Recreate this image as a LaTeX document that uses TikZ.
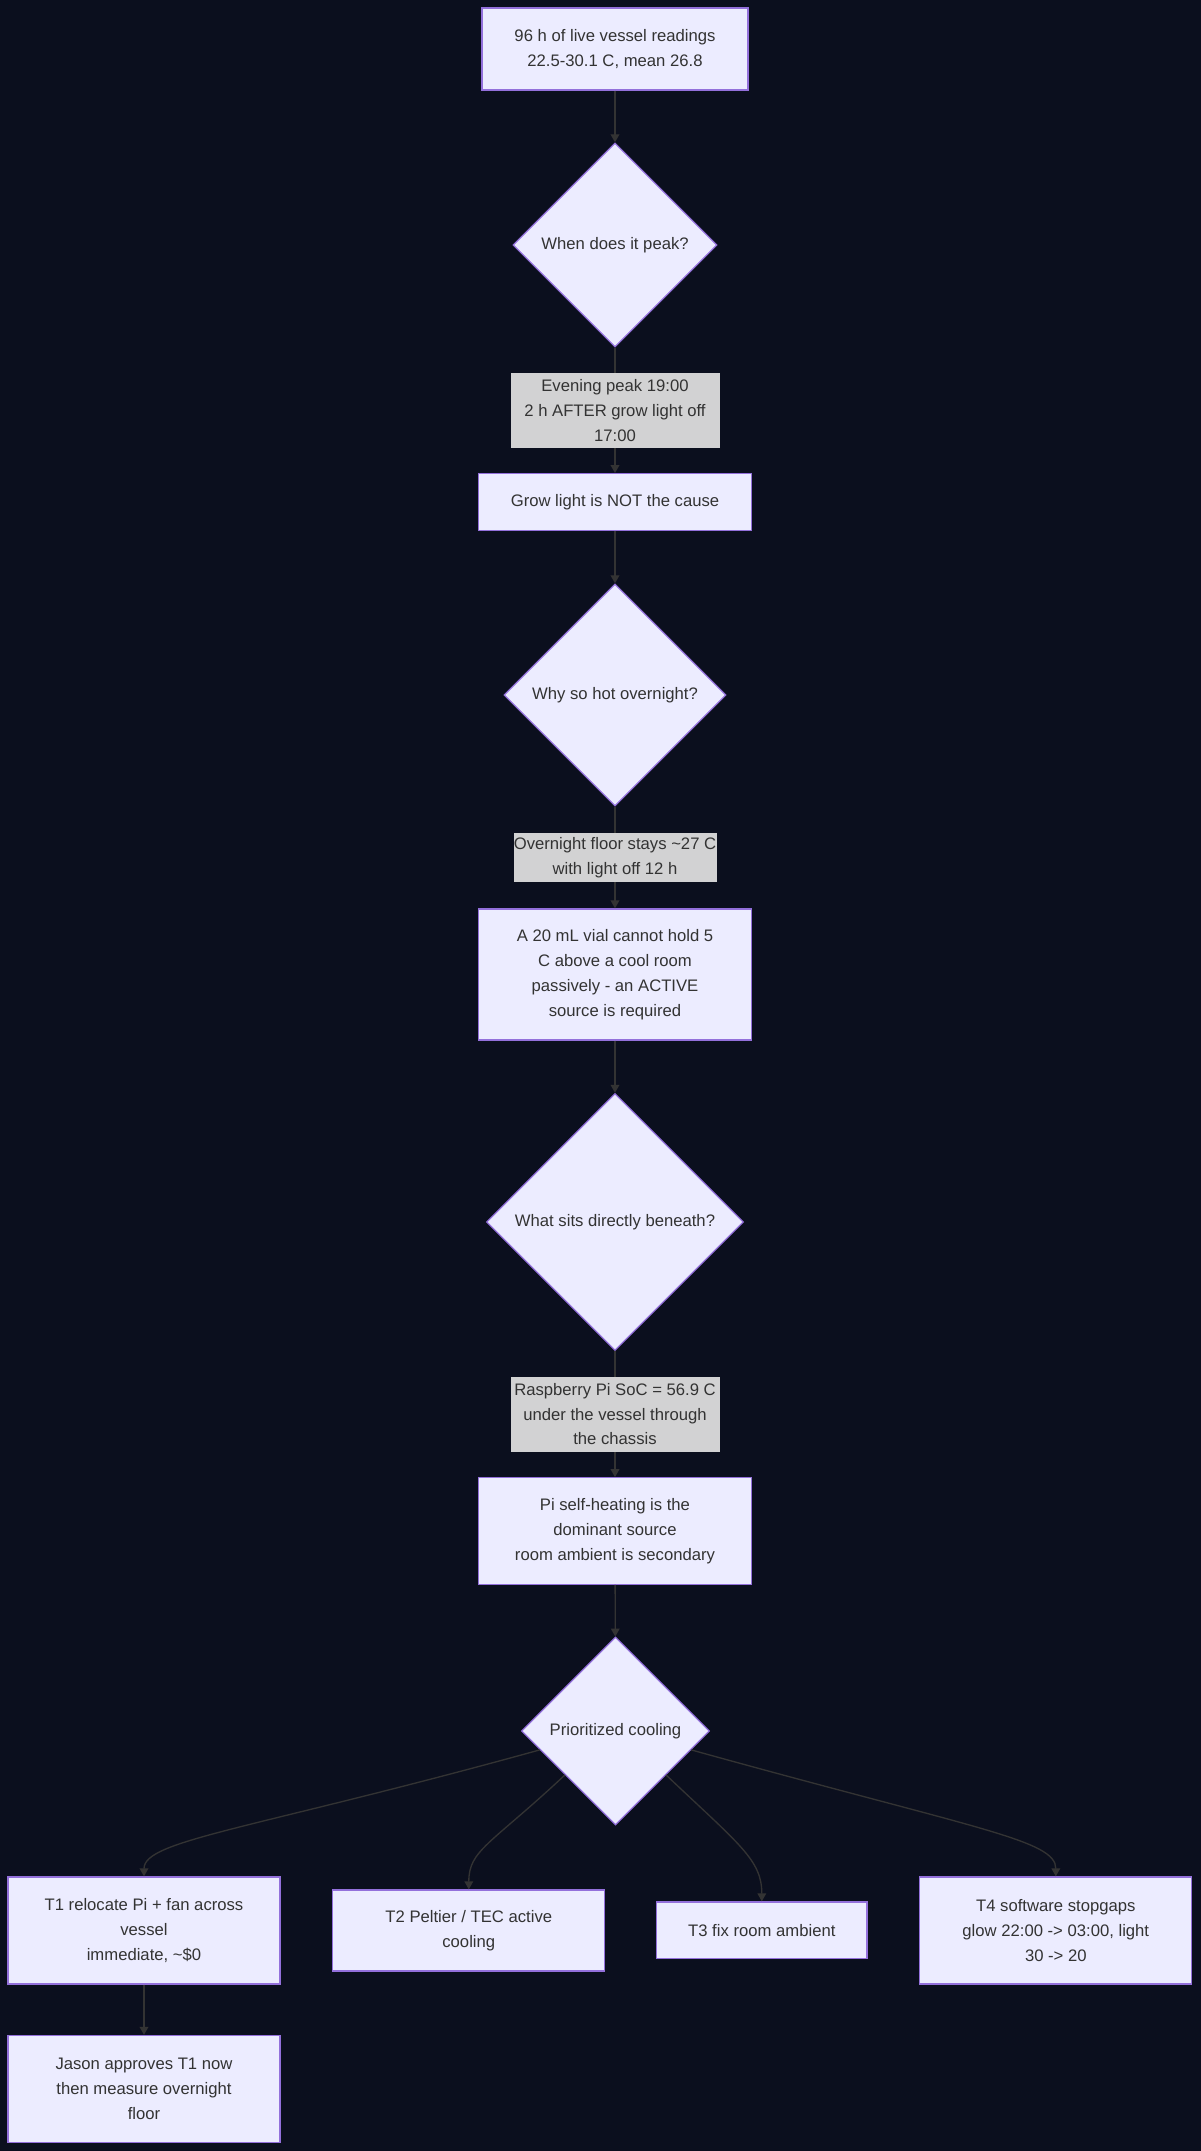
\documentclass[tikz,border=0pt]{standalone}
\usepackage{fontspec}
\setmainfont{Liberation Sans}
\usetikzlibrary{shapes.geometric,arrows.meta}
\definecolor{bgc}{HTML}{0B0F1E}
\definecolor{boxfill}{HTML}{ECECFF}
\definecolor{boxline}{HTML}{9370DB}
\definecolor{edgec}{HTML}{333333}
\definecolor{lblfill}{HTML}{D2D2D3}
\definecolor{txtc}{HTML}{333333}
\begin{document}
\begin{tikzpicture}[x=0.75pt,y=-0.75pt,
  every node/.style={font=\fontsize{12.5}{18.6}\selectfont, text=txtc},
  proc/.style={draw=boxline, fill=boxfill, line width=1pt, rectangle, align=center, inner sep=0pt},
  dec/.style={draw=boxline, fill=boxfill, line width=1pt, diamond, aspect=1, align=center, inner sep=0pt},
  lbl/.style={fill=lblfill, rectangle, align=center, inner sep=0pt},
  edge/.style={draw=edgec, line width=1pt, -{Triangle[length=6pt,width=6.5pt]}}
]
\useasboundingbox (0,0) rectangle (1200,2151);
\fill[bgc] (-10,-10) rectangle (1210,2161);

\node[proc, minimum width=199.5pt, minimum height=61.5pt] (top) at (615,49) {96 h of live vessel readings\\22.5-30.1 C, mean 26.8};
\node[dec, minimum width=153pt, minimum height=153pt] (d1) at (615,245) {When does it peak?};
\node[proc, minimum width=204.75pt, minimum height=42.4pt] (b2) at (615,502) {Grow light is NOT the cause};
\node[dec, minimum width=166.5pt, minimum height=166.5pt] (d2) at (615,695) {Why so hot overnight?};
\node[proc, minimum width=204.75pt, minimum height=98.25pt] (b3) at (615,974.5) {A 20 mL vial cannot hold 5\\C above a cool room\\passively - an ACTIVE\\source is required};
\node[dec, minimum width=192.75pt, minimum height=192.75pt] (d3) at (615,1222) {What sits directly beneath?};
\node[proc, minimum width=204.75pt, minimum height=79.8pt] (b4) at (615,1531) {Pi self-heating is the\\dominant source\\room ambient is secondary};
\node[dec, minimum width=141pt, minimum height=141pt] (d4) at (615.5,1731) {Prioritized cooling};
\node[proc, minimum width=204pt, minimum height=80.25pt] (t1) at (144,1930.5) {T1 relocate Pi + fan across\\vessel\\immediate, \textasciitilde\$0};
\node[proc, minimum width=204pt, minimum height=60.75pt] (t2) at (468.8,1930.5) {T2 Peltier / TEC active\\cooling};
\node[proc, minimum width=157.8pt, minimum height=42.45pt] (t3) at (761.8,1930.3) {T3 fix room ambient};
\node[proc, minimum width=204pt, minimum height=80.25pt] (t4) at (1055.8,1930.5) {T4 software stopgaps\\glow 22:00 -> 03:00, light\\30 -> 20};
\node[proc, minimum width=204pt, minimum height=80.25pt] (j) at (144,2089) {Jason approves T1 now\\then measure overnight\\floor};

\draw[edge] (top) -- (d1);
\draw[edge] (d1) -- node[lbl, minimum width=156.75pt, minimum height=56.25pt] (l1) {Evening peak 19:00\\2 h AFTER grow light off\\17:00} (b2);
\draw[edge] (b2) -- (d2);
\draw[edge] (d2) -- node[lbl, minimum width=152.25pt, minimum height=37.1pt] (l2) {Overnight floor stays \textasciitilde27 C\\with light off 12 h} (b3);
\draw[edge] (b3) -- (d3);
\draw[edge] (d3) -- node[lbl, minimum width=156.75pt, minimum height=56.25pt] (l3) {Raspberry Pi SoC = 56.9 C\\under the vessel through\\the chassis} (b4);
\draw[edge] (b4) -- (d4);
\draw[edge] (d4.194) .. controls (250,1830) and (144,1840) .. (t1.north);
\draw[edge] (d4.221) .. controls (490,1845) and (468.8,1850) .. (t2.north);
\draw[edge] (d4.319) .. controls (740,1845) and (761.8,1860) .. (t3.north);
\draw[edge] (d4.346) .. controls (980,1830) and (1055.8,1840) .. (t4.north);
\draw[edge] (t1) -- (j);
\end{tikzpicture}
\end{document}
